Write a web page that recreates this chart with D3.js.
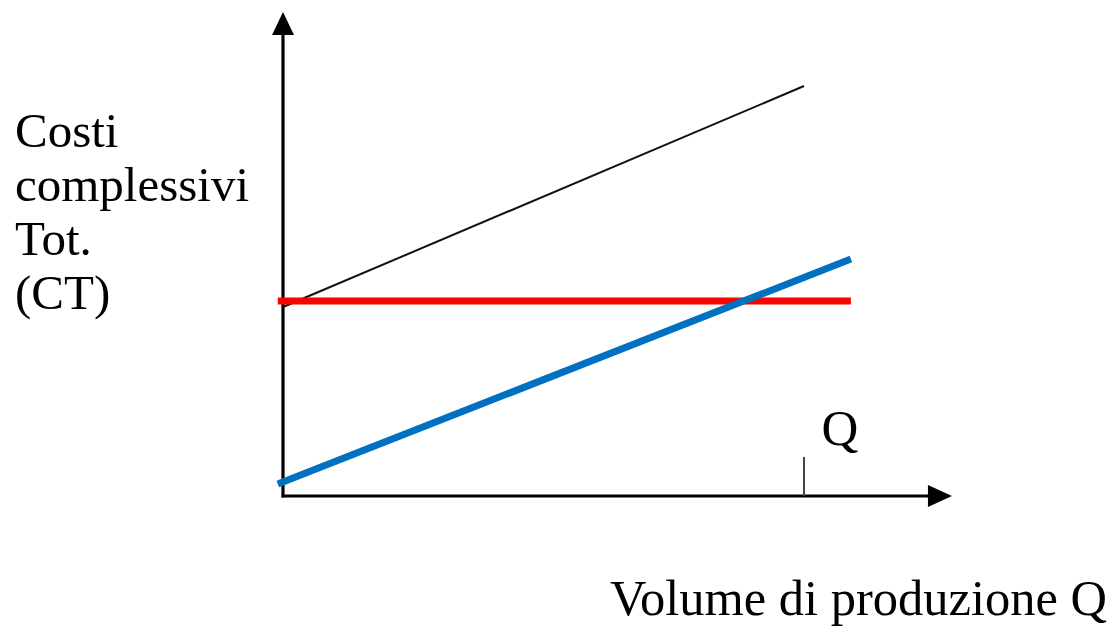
<!DOCTYPE html>
<html>
<head>
<meta charset="utf-8">
<script src="https://cdn.jsdelivr.net/npm/d3@7"></script>
<style>
  body { margin: 0; background: white; }
  text { font-family: "Liberation Serif", "DejaVu Serif", serif; fill: #000; }
</style>
</head>
<body>
<div id="chart"></div>
<script>
// values in chart units (Q on x, costs on y)
var fixedCost    = [{ q: -0.1, c: 4.875 }, { q: 10.9, c: 4.875 }];
var variableCost = [{ q: -0.1, c: 0.3 },   { q: 10.9, c: 5.925 }];
var totalCost    = [{ q: 0,    c: 4.725 }, { q: 10,   c: 10.25 }];
var qTick = 10;
var axisMax = { q: 12.84, c: 12.1 };
var yLabelLines = ["Costi", "complessivi", "Tot.", "(CT)"];
var xLabel = "Volume di produzione Q";
var tickLabel = "Q";

var width = 1109, height = 627;

var svg = d3.select("#chart")
  .append("svg")
  .attr("width", width)
  .attr("height", height)
  .style("background", "white");

var xscale = d3.scaleLinear().domain([0, 10]).range([283, 804]);
var yscale = d3.scaleLinear().domain([0, 10]).range([496, 96]);

var line = d3.line()
  .x(d => xscale(d.q))
  .y(d => yscale(d.c));

// axes with arrow heads
svg.append("line")
  .attr("x1", xscale(0)).attr("x2", xscale(0))
  .attr("y1", yscale(0) + 1.5).attr("y2", yscale(axisMax.c) + 20)
  .attr("stroke", "#000").attr("stroke-width", 3.2);

svg.append("line")
  .attr("x1", xscale(0) - 1.5).attr("x2", xscale(axisMax.q) - 20)
  .attr("y1", yscale(0)).attr("y2", yscale(0))
  .attr("stroke", "#000").attr("stroke-width", 3.2);

var ytip = [xscale(0), yscale(axisMax.c)];
svg.append("path")
  .attr("d", "M" + ytip[0] + "," + ytip[1] +
    "L" + (ytip[0] + 11) + "," + (ytip[1] + 23) +
    "L" + (ytip[0] - 11) + "," + (ytip[1] + 23) + "Z")
  .attr("fill", "#000");

var xtip = [xscale(axisMax.q), yscale(0)];
svg.append("path")
  .attr("d", "M" + xtip[0] + "," + xtip[1] +
    "L" + (xtip[0] - 24) + "," + (xtip[1] - 11) +
    "L" + (xtip[0] - 24) + "," + (xtip[1] + 11) + "Z")
  .attr("fill", "#000");

// Q tick
svg.append("line")
  .attr("x1", xscale(qTick)).attr("x2", xscale(qTick))
  .attr("y1", yscale(0)).attr("y2", yscale(0) - 39)
  .attr("stroke", "#444").attr("stroke-width", 2);

svg.append("text")
  .attr("x", xscale(qTick) + 36)
  .attr("y", 445)
  .attr("text-anchor", "middle")
  .style("font-size", "51px")
  .text(tickLabel);

// cost lines
svg.append("path")
  .datum(totalCost)
  .attr("d", line)
  .attr("fill", "none")
  .attr("stroke", "#111")
  .attr("stroke-width", 2);

svg.append("path")
  .datum(fixedCost)
  .attr("d", line)
  .attr("fill", "none")
  .attr("stroke", "#ff0000")
  .attr("stroke-width", 7);

svg.append("path")
  .datum(variableCost)
  .attr("d", line)
  .attr("fill", "none")
  .attr("stroke", "#0070c0")
  .attr("stroke-width", 7);

// labels
svg.append("g")
  .selectAll("text")
  .data(yLabelLines)
  .enter().append("text")
  .attr("x", 15)
  .attr("y", (d, i) => 147 + i * 54)
  .style("font-size", "49px")
  .text(d => d);

svg.append("text")
  .attr("x", 610)
  .attr("y", 615)
  .style("font-size", "50.5px")
  .text(xLabel);
</script>
</body>
</html>
